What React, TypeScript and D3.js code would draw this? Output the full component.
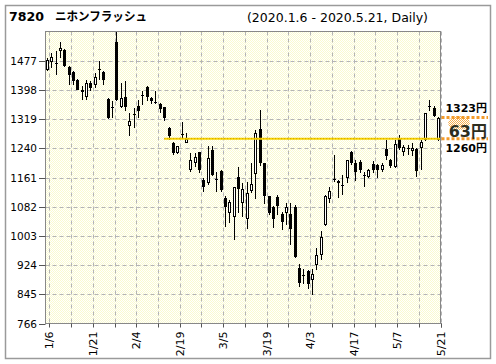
import React from 'react';
import * as d3 from 'd3';

const W = 496;
const H = 364;

const stockCode = '7820';
const stockName = 'ニホンフラッシュ';
const periodText = '(2020.1.6 - 2020.5.21, Daily)';

const opens = [1451,1474,1471,1503,1505,1460,1446,1426,1397,1380,1417,1412,1455,1447,1374,1353,1528,1353,1380,1299,1332,1355,1385,1406,1376,1366,1361,1352,1295,1254,1227,1278,1255,1180,1200,1229,1154,1145,1236,1157,1179,1105,1064,1053,1162,1093,1050,1125,1170,1292,1199,1111,1082,1107,1062,1064,1062,1082,916,898,907,883,923,951,1032,1102,1156,1151,1141,1159,1231,1201,1204,1169,1163,1197,1195,1181,1239,1209,1190,1269,1231,1241,1233,1238,1240,1263,1354,1349,1263];
const highs = [1485,1499,1503,1528,1509,1462,1448,1428,1408,1426,1421,1444,1475,1448,1377,1367,1560,1417,1421,1335,1349,1371,1394,1408,1380,1394,1362,1353,1298,1258,1247,1310,1281,1227,1227,1231,1160,1245,1245,1177,1181,1111,1100,1136,1190,1146,1150,1200,1290,1344,1200,1112,1085,1113,1067,1091,1092,1087,928,914,910,914,969,1017,1114,1136,1222,1154,1168,1209,1234,1209,1209,1177,1185,1205,1197,1199,1263,1211,1263,1276,1250,1250,1254,1241,1263,1336,1371,1354,1325];
const lows = [1448,1458,1439,1485,1460,1412,1412,1397,1370,1371,1394,1403,1426,1412,1319,1322,1367,1349,1340,1272,1295,1322,1358,1367,1361,1361,1336,1313,1263,1222,1225,1267,1255,1177,1190,1172,1122,1141,1165,1122,1122,1027,1037,991,1064,1055,1023,1118,1102,1192,1089,1060,1024,1060,1018,1032,978,942,865,874,860,842,910,937,1029,1091,1150,1105,1114,1145,1195,1152,1172,1136,1160,1172,1159,1177,1209,1188,1186,1236,1218,1222,1218,1163,1181,1261,1340,1324,1260];
const closes = [1480,1487,1468,1512,1462,1437,1421,1399,1393,1418,1403,1433,1452,1424,1322,1349,1371,1376,1353,1315,1329,1340,1382,1380,1367,1364,1347,1322,1274,1227,1245,1275,1265,1209,1216,1181,1136,1213,1168,1154,1127,1080,1094,1134,1129,1129,1118,1143,1281,1200,1111,1065,1050,1084,1041,1080,1023,946,875,895,872,899,951,1000,1111,1125,1153,1145,1138,1207,1200,1177,1181,1167,1181,1181,1181,1195,1218,1193,1252,1240,1243,1239,1242,1179,1258,1335,1352,1327,1323];

const yTicks = [766, 845, 924, 1003, 1082, 1161, 1240, 1319, 1398, 1477];
const yDomain = [766, 1556];
const xTickLabels = ['1/6', '1/21', '2/4', '2/19', '3/5', '3/19', '4/3', '4/17', '5/7', '5/21'];
const xTickIndex = [0, 10, 20, 30, 40, 50, 60, 70, 80, 90];
const gridStep = 5;

const lastPrice = 1323;
const refPrice = 1260;
const diffPrice = 63;
const refLineValue = 1266;
const refLineStartIndex = 27;

const FONT = '"DejaVu Sans", "Noto Sans CJK JP", sans-serif';
const FONT_JP = '"Noto Sans CJK JP", "DejaVu Sans", sans-serif';

export default function App() {
  const left = 45.5, right = 440.5, top = 31.5, bottom = 323.5;
  const n = closes.length;
  const x = d3.scaleLinear().domain([0, n - 1]).range([49.3, right]);
  const y = d3.scaleLinear().domain(yDomain).range([bottom, top]);
  const cx = (i: number) => x(i - 0.57);

  const gridIdx = d3.range(0, n, gridStep);

  const candles = opens.map((o, i) => {
    const c = closes[i];
    const hi = highs[i];
    const lo = lows[i];
    const L = Math.round(cx(i)) - 1;
    const up = c > o;
    const yTop = Math.round(y(Math.max(o, c)));
    const yBot = Math.round(y(Math.min(o, c)));
    const hgt = Math.max(1, yBot - yTop);
    return (
      <g key={i}>
        <line x1={L + 1.5} x2={L + 1.5} y1={y(hi)} y2={y(lo)} stroke="#000" strokeWidth={1} />
        {up ? (
          <rect x={L + 0.5} y={yTop + 0.5} width={2} height={Math.max(1, hgt - 1)} fill="#fff" stroke="#000" strokeWidth={1} />
        ) : (
          <rect x={L} y={yTop} width={3} height={hgt} fill="#000" />
        )}
      </g>
    );
  });

  return (
    <svg width={W} height={H} style={{ position: 'absolute', left: 0, top: 0, background: '#fff' }}
      xmlns="http://www.w3.org/2000/svg">
      <defs>
        <pattern id="bg" width={2} height={2} patternUnits="userSpaceOnUse">
          <rect width={2} height={2} fill="#ffffff" />
          <rect x={0} y={0} width={1} height={1} fill="#fafad0" />
          <rect x={1} y={1} width={1} height={1} fill="#fafad0" />
        </pattern>
        <pattern id="glow" width={2} height={2} patternUnits="userSpaceOnUse">
          <rect x={0} y={0} width={1} height={1} fill="#f5a030" />
          <rect x={1} y={1} width={1} height={1} fill="#f5a030" />
        </pattern>
        <clipPath id="plotClip">
          <rect x={left} y={top} width={right - left} height={bottom - top} />
        </clipPath>
      </defs>

      <rect x={5.5} y={5.5} width={485} height={353} fill="#fff" stroke="#9a9a9a" strokeWidth={1.5} />

      <text x={9} y={21} fontFamily={FONT} fontWeight="bold" fontSize={12} textLength={35} lengthAdjust="spacingAndGlyphs" fill="#000">{stockCode}</text>
      <text x={55} y={21} fontFamily={FONT_JP} fontWeight="bold" fontSize={12} textLength={92} lengthAdjust="spacingAndGlyphs" fill="#000">{stockName}</text>
      <text x={247} y={21.5} fontFamily={FONT} fontSize={12} textLength={181} lengthAdjust="spacingAndGlyphs" fill="#000">{periodText}</text>

      <rect x={left} y={top} width={right - left} height={bottom - top} fill="url(#bg)" />

      {yTicks.slice(1).map((v) => (
        <line key={'hg' + v} x1={left} x2={right} y1={Math.round(y(v)) + 0.5} y2={Math.round(y(v)) + 0.5}
          stroke="#b4b4b4" strokeWidth={1} strokeDasharray="4,3" />
      ))}
      {gridIdx.map((k) => (
        <line key={'vg' + k} x1={Math.round(x(k)) + 0.5} x2={Math.round(x(k)) + 0.5} y1={top} y2={bottom}
          stroke="#b4b4b4" strokeWidth={1} strokeDasharray="4,3" />
      ))}

      <g clipPath="url(#plotClip)" shapeRendering="crispEdges">
        {candles}
      </g>

      <line x1={cx(refLineStartIndex)} x2={right} y1={y(refLineValue)} y2={y(refLineValue)} stroke="#f8d800" strokeWidth={2} />
      <line x1={cx(refLineStartIndex)} x2={right} y1={y(refLineValue)} y2={y(refLineValue)} stroke="#d09000" strokeWidth={1} strokeDasharray="1,2" />

      <rect x={left} y={top} width={right - left} height={bottom - top} fill="none" stroke="#888" strokeWidth={1} />

      {yTicks.map((v) => (
        <g key={'yt' + v}>
          <line x1={39} x2={left} y1={Math.round(y(v)) + 0.5} y2={Math.round(y(v)) + 0.5} stroke="#555" strokeWidth={1} />
          <text x={37} y={y(v) + 4} textAnchor="end" fontFamily={FONT} fontSize={10.5} fill="#000">{v}</text>
        </g>
      ))}

      {d3.range(0, n + 1, gridStep).filter((k) => k < n).concat([n - 1]).map((k, j) => (
        <line key={'xt' + j} x1={Math.round(x(k)) + 0.5} x2={Math.round(x(k)) + 0.5} y1={bottom} y2={bottom + 4} stroke="#555" strokeWidth={1} />
      ))}
      {xTickLabels.map((lab, j) => (
        <text key={'xl' + lab} transform={`translate(${x(xTickIndex[j]) + 4},${bottom + 8}) rotate(-90)`}
          textAnchor="end" fontFamily={FONT} fontSize={11} fill="#000">{lab}</text>
      ))}

      <ellipse cx={459} cy={123} rx={11} ry={7} fill="url(#glow)" opacity={0.85} />
      <line x1={right + 1} x2={488} y1={y(lastPrice)} y2={y(lastPrice)} stroke="#f39a28" strokeWidth={3} strokeDasharray="3,2" />
      <line x1={right + 1} x2={488} y1={y(refLineValue)} y2={y(refLineValue)} stroke="#f39a28" strokeWidth={3} strokeDasharray="3,2" />

      <text x={487} y={111.5} textAnchor="end" fontFamily={FONT} fontWeight="bold" fontSize={11} fill="#000">{lastPrice}円</text>
      <text x={487} y={136.5} textAnchor="end" fontFamily={FONT} fontWeight="bold" fontSize={16} fill="#2e2e20">{diffPrice}円</text>
      <text x={487} y={151.5} textAnchor="end" fontFamily={FONT} fontWeight="bold" fontSize={11} fill="#000">{refPrice}円</text>
    </svg>
  );
}
